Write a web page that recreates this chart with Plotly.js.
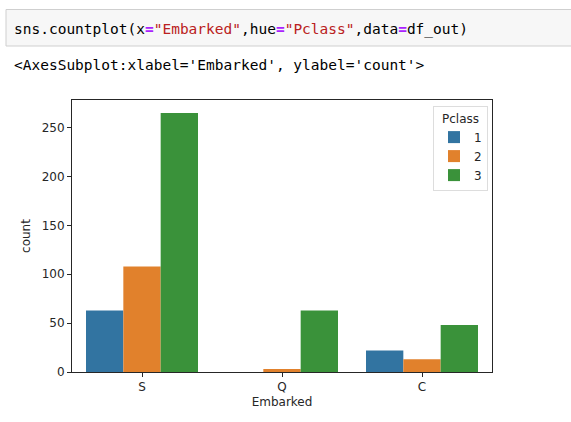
<!DOCTYPE html>
<html>
<head>
<meta charset="utf-8">
<script src="https://cdn.plot.ly/plotly-3.0.1.min.js"></script>
<style>
html,body{margin:0;padding:0;background:#fff;}
#chart{width:571px;height:422px;}
</style>
</head>
<body>
<div id="chart"></div>
<script>
// Data
const categories = ['S', 'Q', 'C'];
const classNames = ['1', '2', '3'];
const pclass1 = [63, 0, 22];
const pclass2 = [108, 3, 13];
const pclass3 = [265, 63, 48];
const yTicks = [0, 50, 100, 150, 200, 250];
const codeLine = 'sns.countplot(x<span style="color:#AA22FF"><b>=</b></span><span style="color:#BA2121">"Embarked"</span>,hue<span style="color:#AA22FF"><b>=</b></span><span style="color:#BA2121">"Pclass"</span>,data<span style="color:#AA22FF"><b>=</b></span>df_out)';
const outputLine = "&lt;AxesSubplot:xlabel='Embarked', ylabel='count'&gt;";

const colors = ['#3274a1', '#e1812c', '#3a923a'];
const series = [pclass1, pclass2, pclass3];

// plot area in pixels
const L = 72, R = 492, T = 100, B = 372, W = 571, H = 422;
const pw = R - L, ph = B - T;
const px = x => (x - L) / pw;
const py = y => (B - y) / ph;

const traces = series.map((vals, i) => ({
  type: 'bar',
  x: categories,
  y: vals,
  name: classNames[i],
  marker: {color: colors[i], line: {width: 0}},
  hoverinfo: 'x+y+name'
}));

const ymax = Math.max(...pclass1, ...pclass2, ...pclass3) * 1.05;

const axisColor = '#262626';
const layout = {
  width: W, height: H,
  margin: {l: L, r: W - R, t: T, b: H - B, pad: 0},
  paper_bgcolor: '#ffffff',
  plot_bgcolor: '#ffffff',
  barmode: 'group',
  bargap: 0.2,
  bargroupgap: 0,
  font: {family: 'DejaVu Sans', size: 12, color: axisColor},
  xaxis: {
    type: 'category',
    range: [-0.5, 2.5],
    showgrid: false, zeroline: false,
    showline: true, linecolor: axisColor, linewidth: 1, mirror: true,
    ticks: 'outside', ticklen: 4, tickwidth: 1, tickcolor: axisColor,
    tickfont: {family: 'DejaVu Sans', size: 12, color: axisColor},
    title: {text: 'Embarked', font: {family: 'DejaVu Sans', size: 12, color: axisColor}, standoff: 4},
    automargin: false, fixedrange: true
  },
  yaxis: {
    range: [0, ymax],
    tickvals: yTicks,
    showgrid: false, zeroline: false,
    showline: true, linecolor: axisColor, linewidth: 1, mirror: true,
    ticks: 'outside', ticklen: 4, tickwidth: 1, tickcolor: axisColor,
    tickfont: {family: 'DejaVu Sans', size: 12, color: axisColor},
    title: {text: 'count', font: {family: 'DejaVu Sans', size: 12, color: axisColor}, standoff: 8},
    automargin: false, fixedrange: true
  },
  legend: {
    x: px(433), y: py(106), xanchor: 'left', yanchor: 'top',
    bgcolor: '#ffffff', bordercolor: '#dddddd', borderwidth: 1,
    font: {family: 'DejaVu Sans', size: 12, color: axisColor},
    title: {text: 'Pclass', side: 'top center', font: {family: 'DejaVu Sans', size: 12, color: axisColor}},
    tracegroupgap: 0, itemwidth: 30
  },
  shapes: [{
    type: 'rect', xref: 'paper', yref: 'paper',
    x0: px(6), x1: px(580), y0: py(46), y1: py(9.5),
    fillcolor: '#f7f7f7', line: {color: '#cfcfcf', width: 1}, layer: 'below'
  }],
  annotations: [
    {
      xref: 'paper', yref: 'paper', x: px(12), y: py(29), xanchor: 'left', yanchor: 'middle',
      text: codeLine, showarrow: false,
      font: {family: 'DejaVu Sans Mono', size: 14.5, color: '#000000'}
    },
    {
      xref: 'paper', yref: 'paper', x: px(12), y: py(65), xanchor: 'left', yanchor: 'middle',
      text: outputLine, showarrow: false,
      font: {family: 'DejaVu Sans Mono', size: 14.5, color: '#000000'}
    }
  ]
};

Plotly.newPlot('chart', traces, layout, {displayModeBar: false, staticPlot: true});
</script>
</body>
</html>
